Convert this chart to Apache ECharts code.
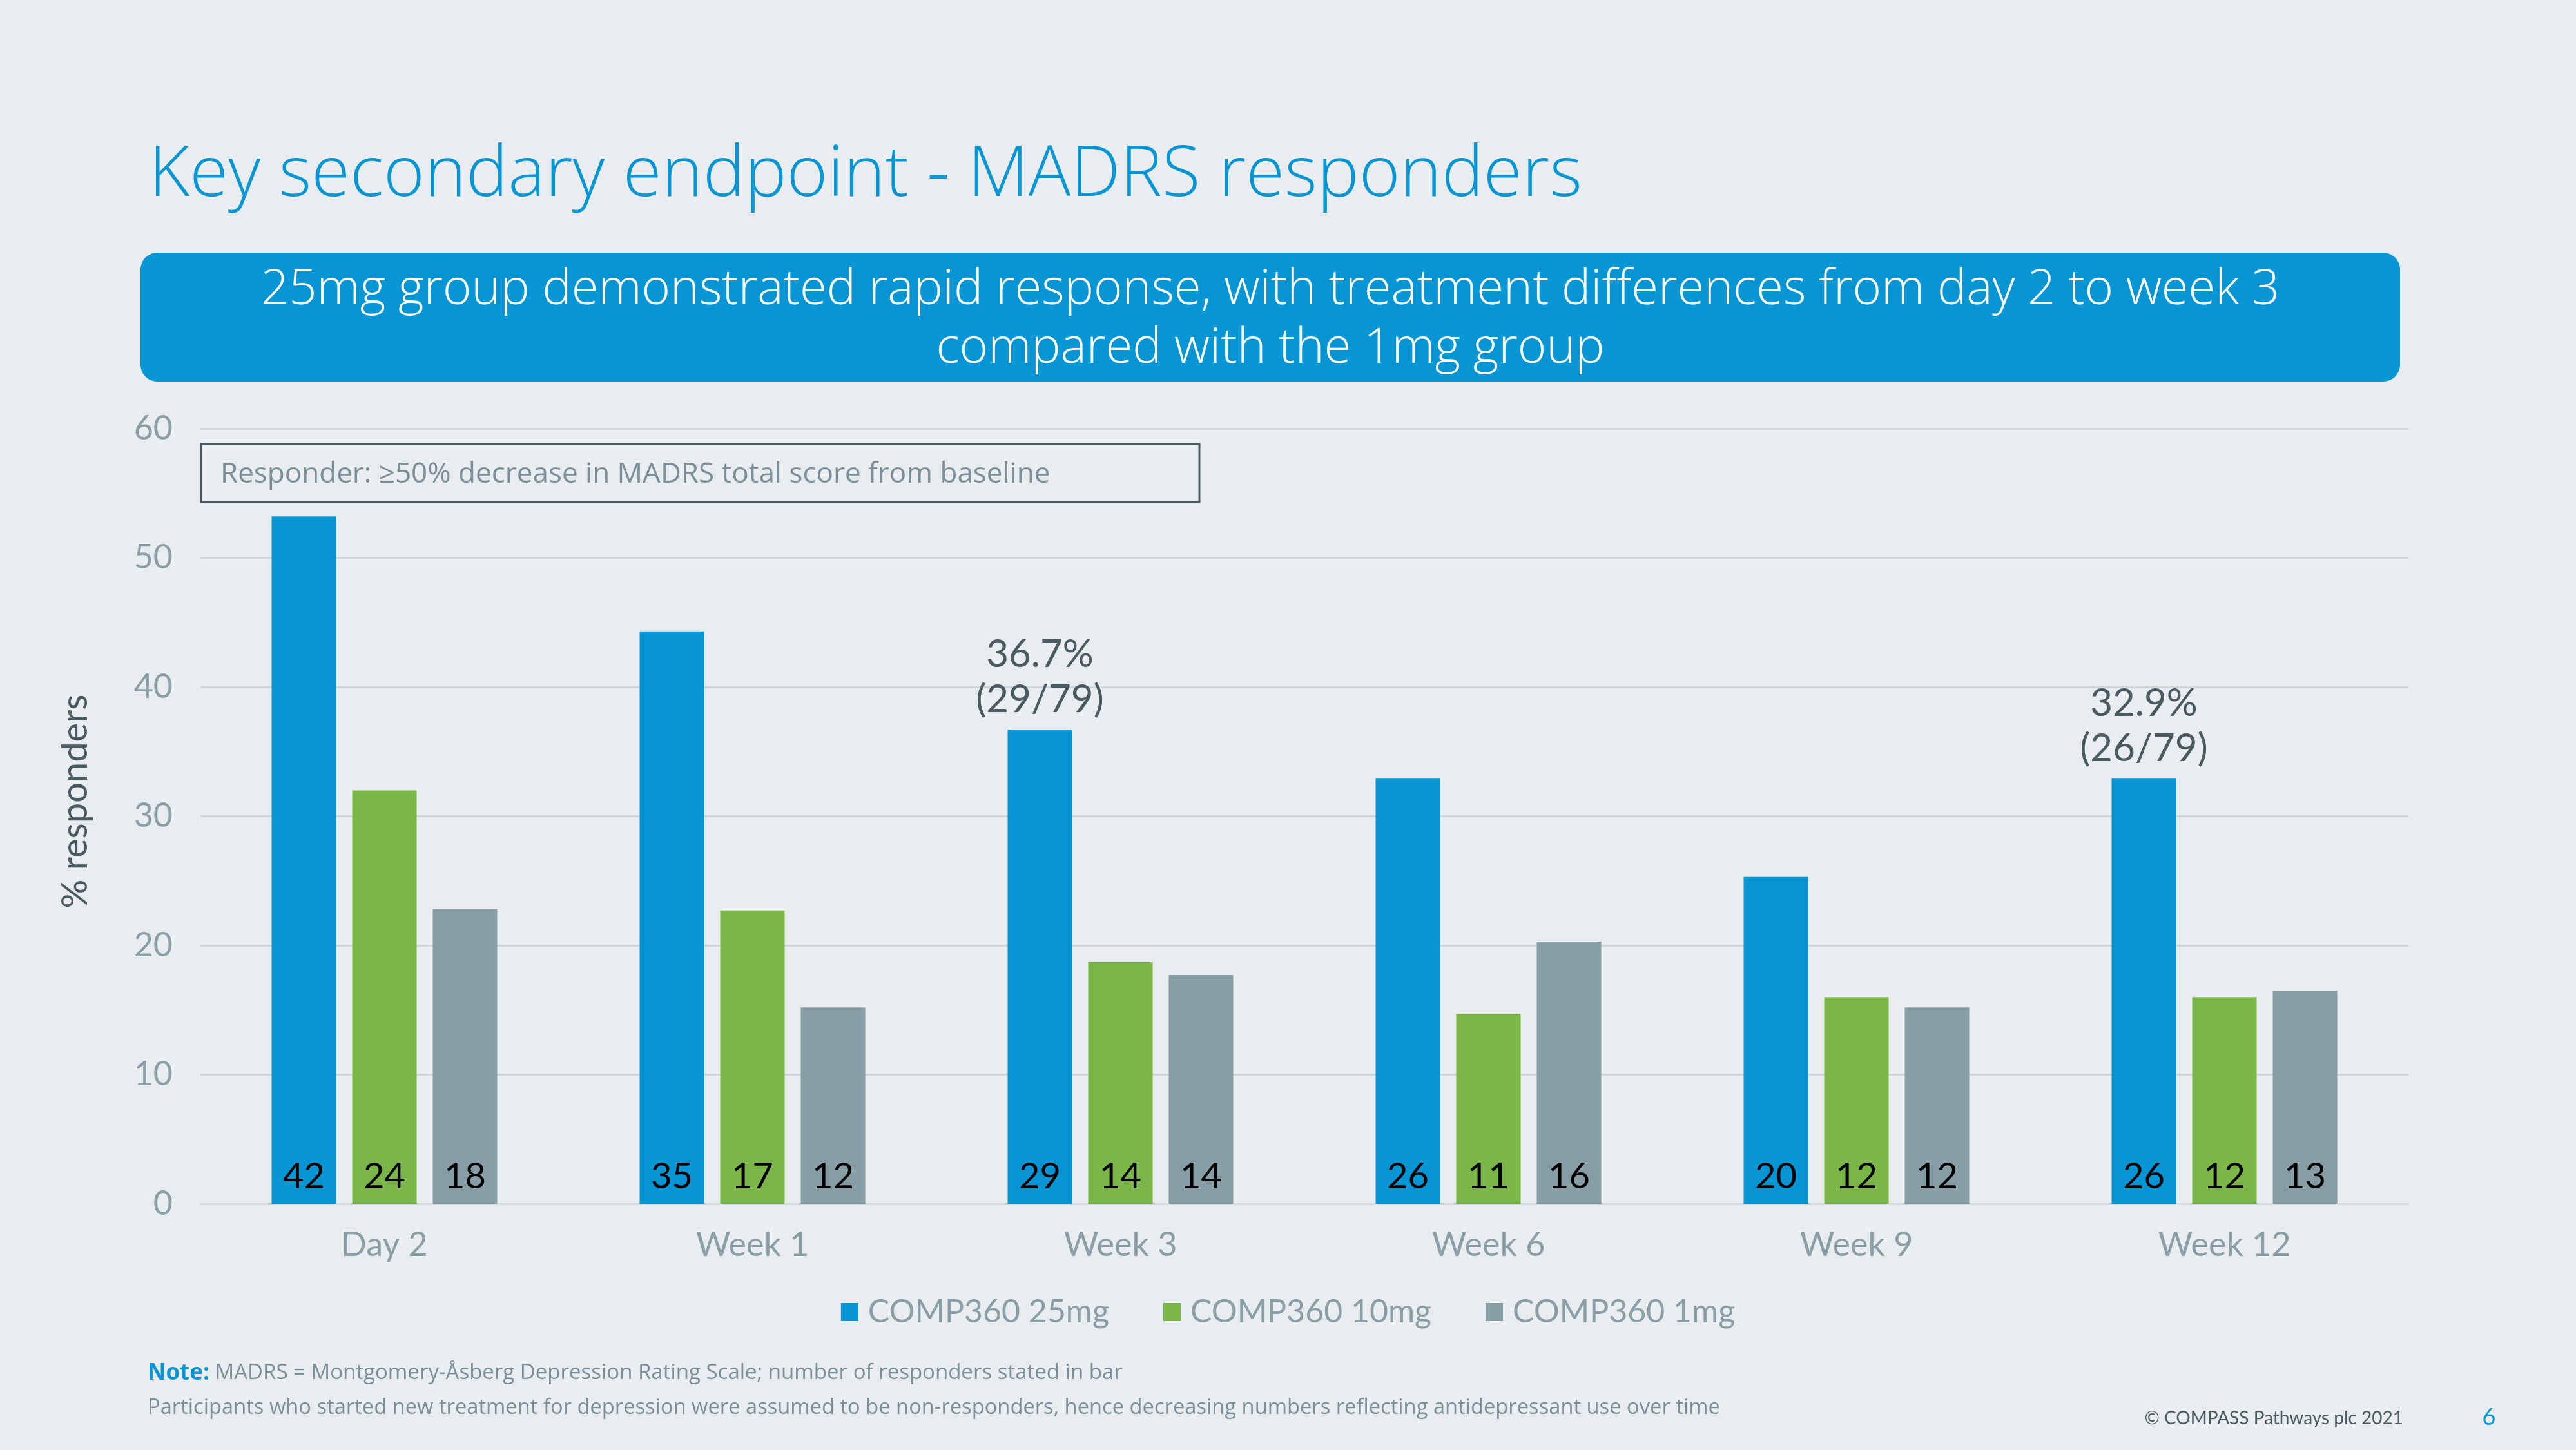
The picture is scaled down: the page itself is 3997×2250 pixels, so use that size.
<!DOCTYPE html>
<html>
<head>
<meta charset="utf-8">
<script src="https://cdn.jsdelivr.net/npm/echarts@6/dist/echarts.min.js"></script>
<style>
html,body{margin:0;padding:0;background:#e9edf0;}
#chart{width:3997px;height:2250px;}
</style>
</head>
<body>
<div id="chart"></div>
<script>
const categories = ["Day 2", "Week 1", "Week 3", "Week 6", "Week 9", "Week 12"];
const seriesNames = ["COMP360 25mg", "COMP360 10mg", "COMP360 1mg"];
const pct25 = [53.2, 44.3, 36.7, 32.9, 25.3, 32.9];
const pct10 = [32.0, 22.7, 18.7, 14.7, 16.0, 16.0];
const pct1  = [22.8, 15.2, 17.7, 20.3, 15.2, 16.5];
const n25 = [42, 35, 29, 26, 20, 26];
const n10 = [24, 17, 14, 11, 12, 12];
const n1  = [18, 12, 14, 16, 12, 13];
const annot25 = ["", "", "36.7%\n(29/79)", "", "", "32.9%\n(26/79)"];
const yTicks = [0, 10, 20, 30, 40, 50, 60];

const colors = ["#0795d3", "#7ab648", "#889ea6"];
const FONT = "Lato, 'Open Sans', sans-serif";
const FONT2 = "'Open Sans', sans-serif";

const chart = echarts.init(document.getElementById('chart'), null, {renderer: 'canvas'});

function countLabel(counts) {
  return {
    show: true, position: 'insideBottom', distance: 14,
    fontFamily: FONT, fontSize: 56, color: '#000',
    formatter: p => String(counts[p.dataIndex])
  };
}

const markData = [];
annot25.forEach((t, i) => { if (t) markData.push({ coord: [categories[i], pct25[i]], value: t }); });

const option = {
  backgroundColor: '#e9edf0',
  animation: false,
  color: colors,
  title: {
    text: 'Key secondary endpoint - MADRS responders',
    left: 226, top: 212,
    textStyle: { fontFamily: FONT2, fontWeight: 300, fontSize: 109, color: '#0795d3', lineHeight: 112 }
  },
  grid: { left: 311, right: 260, top: 665, bottom: 382, containLabel: false },
  legend: {
    data: seriesNames,
    left: 'center', top: 2006,
    icon: 'rect', itemWidth: 27, itemHeight: 28, itemGap: 84,
    textStyle: { fontFamily: FONT, fontSize: 50, color: '#8a9ea8', padding: [0, 0, 0, 10] }
  },
  xAxis: {
    type: 'category', data: categories,
    axisLine: { show: true, lineStyle: { color: '#d3dadf', width: 3 } },
    axisTick: { show: false },
    axisLabel: { fontFamily: FONT, fontSize: 52, color: '#8a9ea8', margin: 38 }
  },
  yAxis: {
    type: 'value', min: yTicks[0], max: yTicks[yTicks.length - 1], interval: 10,
    name: '% responders', nameLocation: 'middle', nameRotate: 90, nameGap: 166,
    nameTextStyle: { fontFamily: FONT, fontSize: 56, color: '#4a5a62', padding: [0, 0, 0, 46] },
    axisLine: { show: false }, axisTick: { show: false },
    axisLabel: { fontFamily: FONT, fontSize: 52, color: '#8a9ea8', margin: 43 },
    splitLine: { lineStyle: { color: '#cfd6dc', width: 3 } }
  },
  series: [
    {
      name: seriesNames[0], type: 'bar', data: pct25,
      barWidth: 100, barGap: '25%', barCategoryGap: '38%',
      itemStyle: { color: colors[0] },
      label: countLabel(n25),
      markPoint: {
        symbol: 'circle', symbolSize: 0,
        label: {
          show: true, position: 'top', distance: 12,
          fontFamily: FONT, fontSize: 60, lineHeight: 70, color: '#4a5a62',
          formatter: p => p.value
        },
        data: markData
      }
    },
    {
      name: seriesNames[1], type: 'bar', data: pct10, barWidth: 100,
      itemStyle: { color: colors[1] }, label: countLabel(n10)
    },
    {
      name: seriesNames[2], type: 'bar', data: pct1, barWidth: 100,
      itemStyle: { color: colors[2] }, label: countLabel(n1)
    }
  ],
  graphic: [
    { type: 'rect', shape: { x: 218, y: 392, width: 3506, height: 200, r: 26 }, style: { fill: '#0795d3' }, z: 1 },
    { type: 'text', x: 1971, y: 496, z: 2,
      style: { text: '25mg group demonstrated rapid response, with treatment differences from day 2 to week 3\ncompared with the 1mg group',
        fill: '#ffffff', font: '300 76px ' + FONT2, align: 'center', verticalAlign: 'middle', lineHeight: 91 } },
    { type: 'rect', shape: { x: 312, y: 689, width: 1549, height: 90 }, style: { fill: 'none', stroke: '#4a5a62', lineWidth: 3 }, z: 5 },
    { type: 'text', x: 342, y: 736, z: 6,
      style: { text: 'Responder: \u226550% decrease in MADRS total score from baseline', fill: '#7a8f99', font: '44px ' + FONT2, verticalAlign: 'middle' } },
    { type: 'text', x: 229, y: 2131, z: 6,
      style: { text: '{b|Note:} MADRS = Montgomery-\u00c5sberg Depression Rating Scale; number of responders stated in bar',
        font: '33px ' + FONT2, fill: '#7a8f99', verticalAlign: 'middle',
        rich: { b: { fontFamily: FONT2, fontSize: 35, fontWeight: 'bold', fill: '#0795d3', color: '#0795d3' } } } },
    { type: 'text', x: 229, y: 2185, z: 6,
      style: { text: 'Participants who started new treatment for depression were assumed to be non-responders, hence decreasing numbers reflecting antidepressant use over time',
        font: '32.7px ' + FONT2, fill: '#7a8f99', verticalAlign: 'middle' } },
    { type: 'text', x: 3729, y: 2201, z: 6,
      style: { text: '\u00a9 COMPASS Pathways plc 2021', font: '28px ' + FONT, fill: '#4a5a62', align: 'right', verticalAlign: 'middle' } },
    { type: 'text', x: 3862, y: 2199, z: 6,
      style: { text: '6', font: '36px ' + FONT, fill: '#0795d3', align: 'center', verticalAlign: 'middle' } }
  ]
};
chart.setOption(option);
</script>
</body>
</html>
